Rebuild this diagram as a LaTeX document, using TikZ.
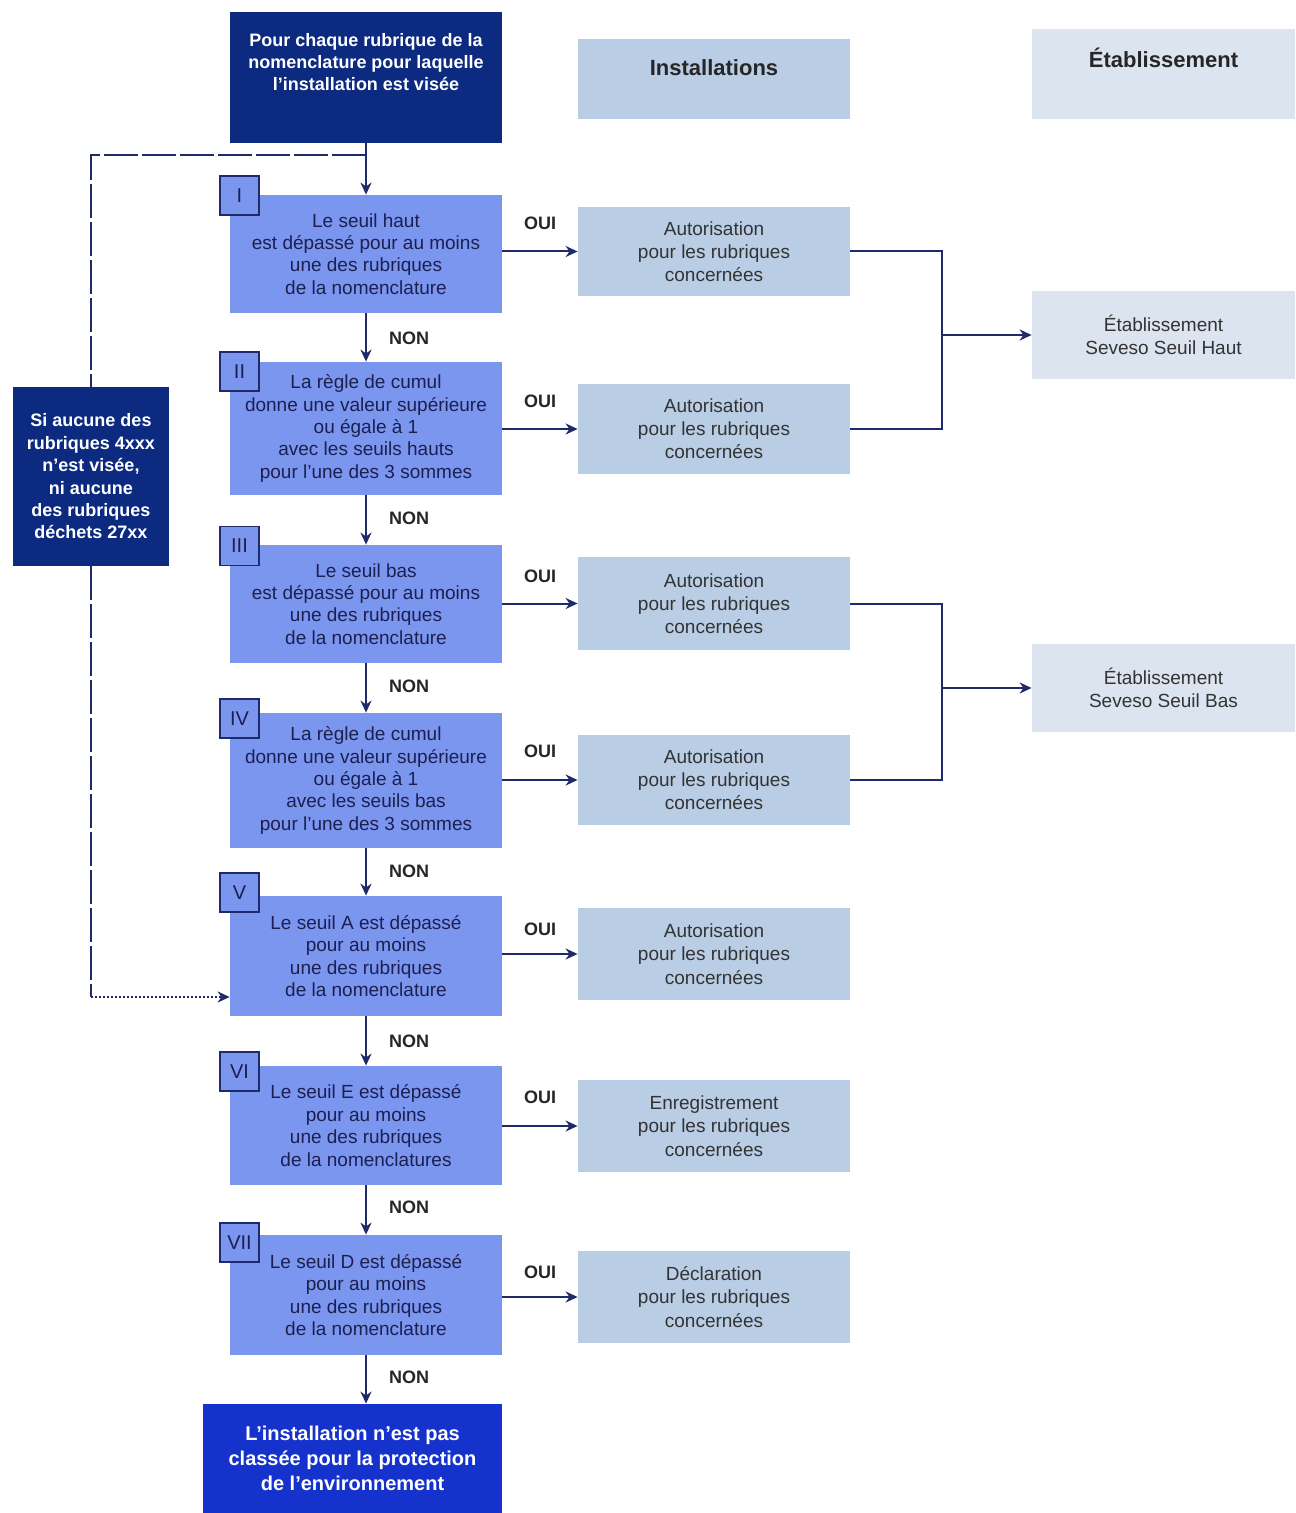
\documentclass[tikz,border=0pt]{standalone}
\usepackage{fontspec}
\setmainfont{Liberation Sans}
\usetikzlibrary{arrows.meta,calc}
\definecolor{navy}{HTML}{0C2A80}
\definecolor{mainblue}{HTML}{7B96EE}
\definecolor{instblue}{HTML}{B9CDE5}
\definecolor{etabblue}{HTML}{DCE4F0}
\definecolor{finalblue}{HTML}{1533CC}
\definecolor{linecol}{HTML}{1E2A6A}
\definecolor{txtnavy}{HTML}{1C1F50}
\begin{document}
\begin{tikzpicture}[x=0.5pt,y=-0.5pt,
  mainbox/.style={fill=mainblue, minimum width=136pt, inner sep=0pt, text=txtnavy, align=center, font=\fontsize{9.5}{11.2}\selectfont},
  instbox/.style={fill=instblue, minimum width=136pt, inner sep=0pt, text=black!80, align=center, font=\fontsize{9.5}{11.6}\selectfont},
  etabbox/.style={fill=etabblue, minimum width=131.5pt, inner sep=0pt, text=black!80, align=center, font=\fontsize{9.5}{11.8}\selectfont},
  darkbox/.style={fill=navy, inner sep=0pt, text=white, align=center, font=\bfseries\fontsize{9}{11.2}\selectfont},
  whitetext/.style={text=white, align=center, inner sep=0pt, font=\bfseries\fontsize{9}{11}\selectfont},
  hdrtext/.style={text=black!85, inner sep=0pt, font=\bfseries\fontsize{11}{13}\selectfont},
  badge/.style={draw=linecol, line width=0.9pt, fill=mainblue, minimum size=19.5pt, inner sep=0pt, text=txtnavy, font=\fontsize{10}{12}\selectfont},
  lbl/.style={inner sep=0pt, text=black!85, font=\bfseries\fontsize{9}{11}\selectfont},
  conn/.style={draw=linecol, line width=1pt},
  arr/.style={conn, -{Stealth[length=6pt,width=5.5pt]}},
  dashline/.style={draw=linecol, line width=1pt, dash pattern=on 17pt off 2pt},
  dotline/.style={draw=linecol, line width=1pt, densely dotted, -{Stealth[length=6pt,width=5.5pt]}}
]
\useasboundingbox (0,0) rectangle (1295,1513);

% top and headers
\node[fill=navy, minimum width=136pt, minimum height=65.5pt, inner sep=0pt] (top) at (366,77.5) {};
\node[whitetext] (toptext) at (366,62) {Pour chaque rubrique de la\\nomenclature pour laquelle\\l'installation est visée};
\node[fill=instblue, minimum width=136pt, minimum height=40pt, inner sep=0pt] (insthead) at (714,79) {};
\node[hdrtext] (insttext) at (714,68) {Installations};
\node[fill=etabblue, minimum width=131.5pt, minimum height=45pt, inner sep=0pt] (etabhead) at (1163.5,74) {};
\node[hdrtext] (etabtext) at (1163.5,58) {Établissement};

% left box
\node[darkbox, minimum width=78pt, minimum height=89.5pt] (left) at (91,476.5) {Si aucune des\\rubriques 4xxx\\n'est visée,\\ni aucune\\des rubriques\\déchets 27xx};

% main boxes
\node[mainbox, minimum height=59pt] (b1) at (366,254) {Le seuil haut\\est dépassé pour au moins\\une des rubriques\\de la nomenclature};
\node[mainbox, minimum height=66.5pt] (b2) at (366,428.5) {La règle de cumul\\donne une valeur supérieure\\ou égale à 1\\avec les seuils hauts\\pour l'une des 3 sommes};
\node[mainbox, minimum height=59pt] (b3) at (366,604) {Le seuil bas\\est dépassé pour au moins\\une des rubriques\\de la nomenclature};
\node[mainbox, minimum height=67.5pt] (b4) at (366,780.5) {La règle de cumul\\donne une valeur supérieure\\ou égale à 1\\avec les seuils bas\\pour l'une des 3 sommes};
\node[mainbox, minimum height=60pt] (b5) at (366,956) {Le seuil A est dépassé\\pour au moins\\une des rubriques\\de la nomenclature};
\node[mainbox, minimum height=59.5pt] (b6) at (366,1125.5) {Le seuil E est dépassé\\pour au moins\\une des rubriques\\de la nomenclatures};
\node[mainbox, minimum height=60pt] (b7) at (366,1295) {Le seuil D est dépassé\\pour au moins\\une des rubriques\\de la nomenclature};
\node[fill=finalblue, minimum width=149.5pt, minimum height=54.5pt, inner sep=0pt, text=white, align=center, font=\bfseries\fontsize{10}{12.5}\selectfont] (final) at (352.5,1458.5) {L'installation n'est pas\\classée pour la protection\\de l'environnement};

% badges
\node[badge] (n1) at (239.5,195.5) {I};
\node[badge] (n2) at (239.5,371.5) {II};
\node[badge] (n3) at (239.5,546) {III};
\node[badge] (n4) at (239.5,718.5) {IV};
\node[badge] (n5) at (239.5,892.5) {V};
\node[badge] (n6) at (239.5,1071.5) {VI};
\node[badge] (n7) at (239.5,1242.5) {VII};

% right boxes
\node[instbox, minimum height=44.5pt] (r1) at (714,251.5) {Autorisation\\pour les rubriques\\concernées};
\node[instbox, minimum height=45pt] (r2) at (714,429) {Autorisation\\pour les rubriques\\concernées};
\node[instbox, minimum height=46.5pt] (r3) at (714,603.5) {Autorisation\\pour les rubriques\\concernées};
\node[instbox, minimum height=45pt] (r4) at (714,780) {Autorisation\\pour les rubriques\\concernées};
\node[instbox, minimum height=46pt] (r5) at (714,954) {Autorisation\\pour les rubriques\\concernées};
\node[instbox, minimum height=46pt] (r6) at (714,1126) {Enregistrement\\pour les rubriques\\concernées};
\node[instbox, minimum height=46pt] (r7) at (714,1297) {Déclaration\\pour les rubriques\\concernées};

\node[etabbox, minimum height=44pt] (sh) at (1163.5,335) {Établissement\\Seveso Seuil Haut};
\node[etabbox, minimum height=44pt] (sb) at (1163.5,688) {Établissement\\Seveso Seuil Bas};

% vertical NON arrows
\draw[arr] (top.south) -- (b1.north);
\draw[arr] (b1.south) -- (b2.north);
\draw[arr] (b2.south) -- (b3.north);
\draw[arr] (b3.south) -- (b4.north);
\draw[arr] (b4.south) -- (b5.north);
\draw[arr] (b5.south) -- (b6.north);
\draw[arr] (b6.south) -- (b7.north);
\draw[arr] (b7.south) -- (final.north -| b7.south);

\node[lbl] (non1) at (409,338) {NON};
\node[lbl] (non2) at (409,518) {NON};
\node[lbl] (non3) at (409,686) {NON};
\node[lbl] (non4) at (409,871) {NON};
\node[lbl] (non5) at (409,1041) {NON};
\node[lbl] (non6) at (409,1207) {NON};
\node[lbl] (non7) at (409,1377) {NON};

% OUI arrows
\draw[arr] (r1.west -| b1.east) -- (r1.west);
\draw[arr] (r2.west -| b2.east) -- (r2.west);
\draw[arr] (r3.west -| b3.east) -- (r3.west);
\draw[arr] (r4.west -| b4.east) -- (r4.west);
\draw[arr] (r5.west -| b5.east) -- (r5.west);
\draw[arr] (r6.west -| b6.east) -- (r6.west);
\draw[arr] (r7.west -| b7.east) -- (r7.west);

\node[lbl] (oui1) at (540,223) {OUI};
\node[lbl] (oui2) at (540,401) {OUI};
\node[lbl] (oui3) at (540,576) {OUI};
\node[lbl] (oui4) at (540,751) {OUI};
\node[lbl] (oui5) at (540,929) {OUI};
\node[lbl] (oui6) at (540,1097) {OUI};
\node[lbl] (oui7) at (540,1272) {OUI};

% Seveso joins
\coordinate (jh) at (942,335);
\draw[conn] (r1.east) -| (jh) |- (r2.east);
\draw[arr] (jh) -- (sh.west);
\coordinate (jb) at (942,688);
\draw[conn] (r3.east) -| (jb) |- (r4.east);
\draw[arr] (jb) -- (sb.west);

% bypass
\coordinate (split) at (366,155);
\draw[dashline] (split) -| (left.north);
\coordinate (turn) at (91,997);
\draw[dashline] (left.south) -- (turn);
\draw[dotline] (turn) -- (turn -| b5.west);
\end{tikzpicture}
\end{document}
